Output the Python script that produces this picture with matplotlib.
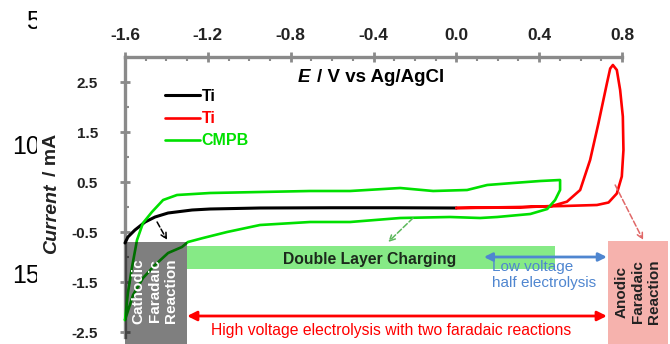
import matplotlib
matplotlib.use("Agg")
from matplotlib import pyplot as plt
from matplotlib.patches import Rectangle
from matplotlib.ticker import MultipleLocator
from matplotlib.transforms import Bbox, TransformedBbox

plt.rcParams['font.family'] = ['Liberation Sans', 'DejaVu Sans']

# ticks
xticks = [-1.6, -1.2, -0.8, -0.4, 0.0, 0.4, 0.8]
xticklabels = ["-1.6", "-1.2", "-0.8", "-0.4", "0.0", "0.4", "0.8"]
yticks = [2.5, 1.5, 0.5, -0.5, -1.5, -2.5]
yticklabels = ["2.5", "1.5", "0.5", "-0.5", "-1.5", "-2.5"]

# Ti, cathodic side (black)
ti_cat_e = [-1.6, -1.586, -1.552, -1.503, -1.455, -1.392, -1.276, -1.189, -0.948, -0.6, -0.3, 0.0]
ti_cat_i = [-0.72, -0.60, -0.46, -0.30, -0.20, -0.12, -0.06, -0.04, -0.02, -0.015, -0.015, -0.02]

# Ti, anodic side (red loop)
ti_an_e = [0.0, 0.3, 0.461, 0.534, 0.598, 0.646, 0.686, 0.727, 0.743, 0.756,
           0.775, 0.791, 0.804, 0.807, 0.799, 0.775, 0.735, 0.679, 0.517, 0.3, 0.0]
ti_an_i = [-0.02, -0.01, 0.02, 0.106, 0.34, 0.94, 1.67, 2.47, 2.77, 2.84,
           2.74, 2.34, 1.81, 1.14, 0.61, 0.27, 0.09, 0.04, 0.02, 0.0, -0.02]

# CMPB (green loop)
cmpb_e = [-1.6, -1.586, -1.566, -1.542, -1.513, -1.470, -1.416, -1.349, -1.189, -0.948,
          -0.706, -0.513, -0.271, -0.112, 0.052, 0.149, 0.274, 0.405, 0.501,
          0.501, 0.477, 0.439, 0.357, 0.197, 0.115,
          -0.030, -0.271, -0.513, -0.706, -0.948, -1.107, -1.223, -1.296, -1.325,
          -1.392, -1.455, -1.513, -1.561, -1.6]
cmpb_i = [-2.26, -1.72, -1.20, -0.66, -0.32, -0.10, 0.14, 0.24, 0.28, 0.30,
          0.32, 0.32, 0.38, 0.32, 0.34, 0.44, 0.48, 0.52, 0.54,
          0.34, 0.14, -0.04, -0.14, -0.20, -0.22,
          -0.20, -0.22, -0.30, -0.30, -0.36, -0.50, -0.62, -0.70, -0.80,
          -0.92, -1.16, -1.42, -1.76, -2.26]

green = '#00e000'
axcol = '#8a8a8a'

fig = plt.figure(figsize=(6.7, 3.44), dpi=100)
ax = fig.add_axes([125/670, 7/344, 497/670, 280/344])
ax.set_xlim(-1.6, 0.8)
ax.set_ylim(-2.6, 3.0)

for s in ['right', 'bottom']:
    ax.spines[s].set_visible(False)
for s in ['top', 'left']:
    ax.spines[s].set_color(axcol)
    ax.spines[s].set_linewidth(2.4)

ax.xaxis.tick_top()
ax.set_xticks(xticks, labels=xticklabels, fontweight='bold')
ax.set_yticks(yticks, labels=yticklabels, fontweight='bold')
ax.xaxis.set_minor_locator(MultipleLocator(0.1))
ax.yaxis.set_minor_locator(MultipleLocator(0.5))
ax.tick_params(which='major', direction='inout', length=7, width=2, color=axcol,
               labelcolor='#222222')
ax.tick_params(axis='x', which='major', pad=6.5, labelsize=12.5)
ax.tick_params(axis='y', which='major', pad=16, labelsize=11)
ax.tick_params(which='minor', direction='in', length=3, width=1.5, color=axcol)

l_black, = ax.plot(ti_cat_e, ti_cat_i, color='black', lw=2.2, clip_on=False,
                   solid_capstyle='round', solid_joinstyle='round', zorder=3)
l_red, = ax.plot(ti_an_e, ti_an_i, color='red', lw=1.9, clip_on=False,
                 solid_capstyle='round', solid_joinstyle='round', zorder=3)
l_green, = ax.plot(cmpb_e, cmpb_i, color=green, lw=1.9, clip_on=False,
                   solid_capstyle='round', solid_joinstyle='round', zorder=3)

ax.legend([l_black, l_red, l_green], ['Ti', 'Ti', 'CMPB'],
          loc='upper left', bbox_to_anchor=(-1.407, 2.36), bbox_transform=ax.transData,
          frameon=False, handlelength=2.2, handletextpad=0.1, labelspacing=0.45,
          borderpad=0, borderaxespad=0, labelcolor=['black', 'red', green],
          prop={'weight': 'bold', 'size': 11.5})

# axis labels
ax.text(-0.765, 2.58, "E", fontsize=13.5, fontweight='bold', fontstyle='italic',
        ha='left', va='center')
ax.text(-0.672, 2.58, "/ V vs Ag/AgCl", fontsize=13.5, fontweight='bold',
        ha='left', va='center')
fig.text(52/670, 1 - 219/344, "Current", rotation=90, fontsize=14, fontweight='bold',
         fontstyle='italic', ha='center', va='center', color='#222222')
fig.text(52/670, 1 - 155/344, "/ mA", rotation=90, fontsize=14, fontweight='bold',
         ha='center', va='center', color='#222222')

# regions
ax.add_patch(Rectangle((-1.6, -2.8), 0.30, 2.10, facecolor='black', alpha=0.5,
                       edgecolor='none', clip_on=False, zorder=4))
ax.text(-1.455, -1.68, "Cathodic\nFaradaic\nReaction", rotation=90, color='white',
        fontsize=11, fontweight='bold', ha='center', va='center', linespacing=1.2,
        zorder=5)

ax.add_patch(Rectangle((-1.30, -1.24), 1.777, 0.46, facecolor='#86ea86',
                       edgecolor='none', clip_on=False, zorder=1))
ax.text(-0.417, -1.05, "Double Layer Charging", color='#1c2a1c', fontsize=11.3,
        fontweight='bold', ha='center', va='center', zorder=5)

ax.add_patch(Rectangle((0.732, -2.8), 0.29, 2.12, facecolor='#f6b2ad',
                       edgecolor='none', clip_on=False, zorder=1))
ax.text(0.877, -1.70, "Anodic\nFaradaic\nReaction", rotation=90, color='#222222',
        fontsize=11, fontweight='bold', ha='center', va='center', linespacing=1.2,
        zorder=5, clip_on=False)

# arrows
blue = '#4f86d0'
ax.annotate("", xy=(0.727, -1.0), xytext=(0.133, -1.0),
            arrowprops=dict(arrowstyle='<|-|>', color=blue, lw=2, mutation_scale=12,
                            shrinkA=0, shrinkB=0), zorder=4)
ax.text(0.172, -1.36, "Low voltage\nhalf electrolysis", color=blue, fontsize=11,
        ha='left', va='center', linespacing=1.15, zorder=5)

ax.annotate("", xy=(0.727, -2.18), xytext=(-1.30, -2.18),
            arrowprops=dict(arrowstyle='<|-|>', color='red', lw=2, mutation_scale=14,
                            shrinkA=0, shrinkB=0), zorder=4)
ax.text(-0.316, -2.48, "High voltage electrolysis with two faradaic reactions",
        color='red', fontsize=11.3, ha='center', va='center', zorder=5)

ax.annotate("", xy=(-1.397, -0.66), xytext=(-1.445, -0.30),
            arrowprops=dict(arrowstyle='->', color='black', lw=1.1, linestyle='--',
                            shrinkA=0, shrinkB=0))
ax.annotate("", xy=(-0.329, -0.70), xytext=(-0.209, -0.22),
            arrowprops=dict(arrowstyle='->', color='#5cb85c', lw=1.1, linestyle='--',
                            shrinkA=0, shrinkB=0))
ax.annotate("", xy=(0.902, -0.66), xytext=(0.767, 0.44),
            arrowprops=dict(arrowstyle='->', color='#e06868', lw=1.1, linestyle='--',
                            shrinkA=0, shrinkB=0), annotation_clip=False)

# line numbers of the source page, cut at the left margin
clipbox = TransformedBbox(Bbox([[0, 0], [37/670, 1]]), fig.transFigure)
for num, ypix in [("5", 22), ("10", 147), ("15", 276)]:
    t = fig.text(40/670, 1 - ypix/344, num, ha='right', va='center', fontsize=18,
                 color='black')
    t.set_clip_on(True)
    t.set_clip_box(clipbox)

fig.savefig("out.png", dpi=100)
